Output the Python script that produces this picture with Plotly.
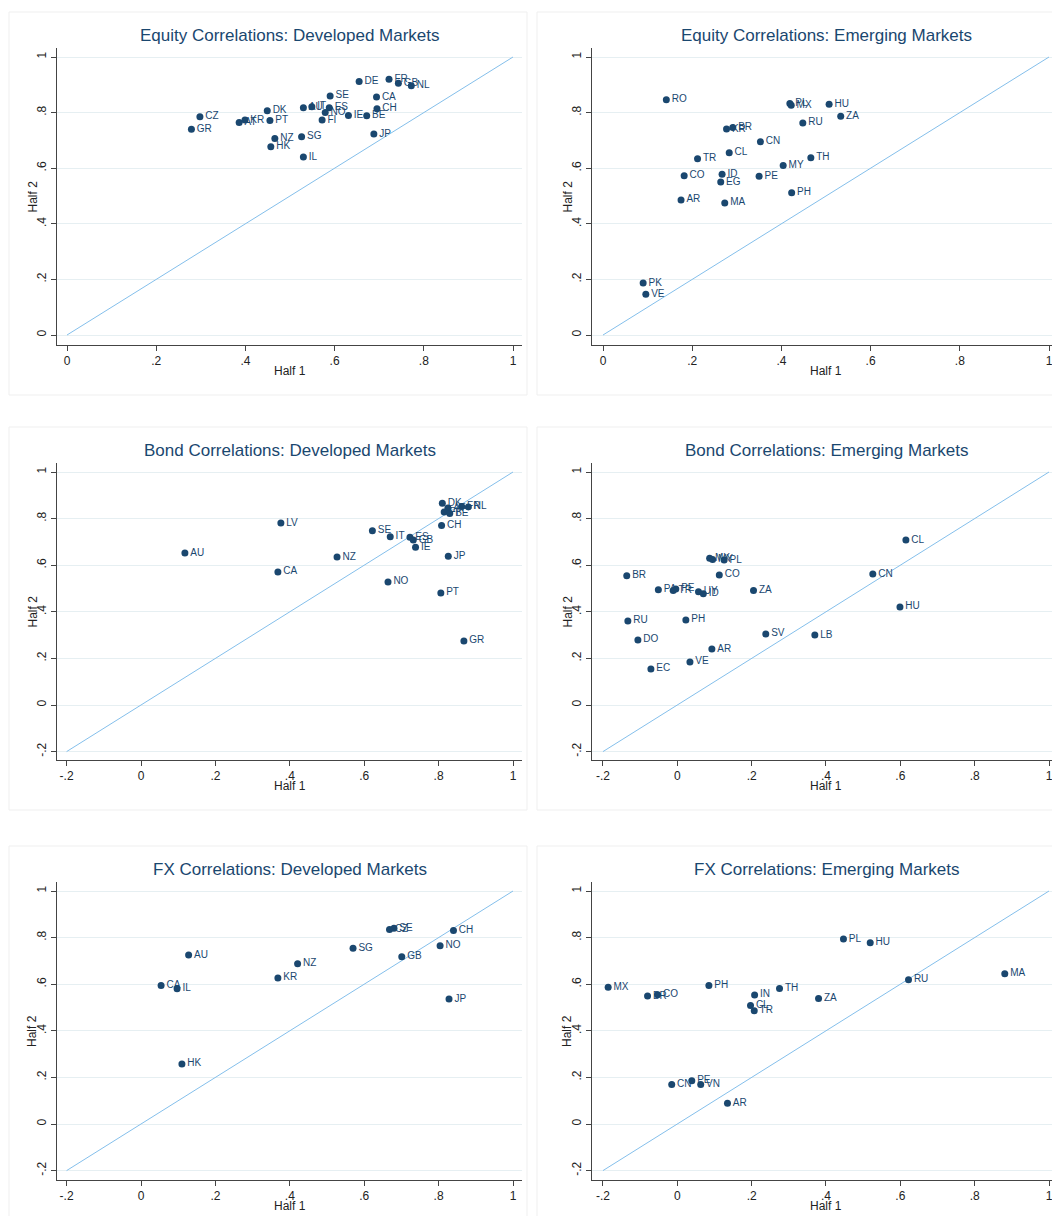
import plotly.graph_objects as go

# ---------------- data ----------------
eq_dev_codes = ["DE", "FR", "GB", "NL", "SE", "CA", "CH", "DK", "AU", "IT", "ES", "NO", "IE", "BE", "FI",
                "CZ", "GR", "KR", "AT", "PT", "NZ", "SG", "HK", "IL", "JP"]
eq_dev_h1 = [0.655, 0.722, 0.743, 0.772, 0.590, 0.694, 0.695, 0.449, 0.530, 0.549, 0.588, 0.579, 0.631, 0.672, 0.572,
             0.298, 0.279, 0.399, 0.386, 0.455, 0.466, 0.526, 0.457, 0.530, 0.688]
eq_dev_h2 = [0.912, 0.920, 0.906, 0.897, 0.860, 0.856, 0.814, 0.807, 0.817, 0.821, 0.817, 0.800, 0.790, 0.789, 0.773,
             0.785, 0.740, 0.773, 0.764, 0.772, 0.707, 0.713, 0.677, 0.640, 0.723]

eq_em_codes = ["RO", "PL", "MX", "HU", "ZA", "RU", "KR", "BR", "CN", "CL", "TR", "TH", "MY", "CO", "ID",
               "EG", "PE", "PH", "AR", "MA", "PK", "VE"]
eq_em_h1 = [0.142, 0.419, 0.422, 0.507, 0.533, 0.448, 0.277, 0.291, 0.353, 0.283, 0.212, 0.466, 0.404, 0.182, 0.267,
            0.264, 0.350, 0.423, 0.175, 0.273, 0.090, 0.096]
eq_em_h2 = [0.846, 0.833, 0.826, 0.830, 0.787, 0.763, 0.741, 0.746, 0.695, 0.656, 0.634, 0.638, 0.610, 0.573, 0.578,
            0.550, 0.571, 0.512, 0.486, 0.475, 0.187, 0.147]

bd_dev_codes = ["DK", "AT", "FI", "BE", "FR", "NL", "CH", "SE", "IT", "ES", "GB", "IE", "JP", "NZ", "LV",
                "AU", "CA", "NO", "PT", "GR"]
bd_dev_h1 = [0.810, 0.825, 0.815, 0.830, 0.862, 0.880, 0.808, 0.622, 0.670, 0.723, 0.732, 0.738, 0.826, 0.527, 0.376,
             0.118, 0.368, 0.664, 0.806, 0.868]
bd_dev_h2 = [0.866, 0.845, 0.828, 0.822, 0.852, 0.850, 0.770, 0.748, 0.722, 0.720, 0.708, 0.677, 0.638, 0.635, 0.781,
             0.652, 0.571, 0.528, 0.481, 0.275]

bd_em_codes = ["MX", "MY", "PL", "CO", "BR", "PA", "PE", "TR", "UY", "ID", "ZA", "CL", "CN", "HU", "RU",
               "PH", "DO", "AR", "SV", "LB", "VE", "EC"]
bd_em_h1 = [0.087, 0.095, 0.126, 0.113, -0.136, -0.051, -0.004, -0.011, 0.057, 0.070, 0.205, 0.615, 0.526, 0.599, -0.133,
            0.023, -0.106, 0.093, 0.238, 0.370, 0.034, -0.071]
bd_em_h2 = [0.630, 0.624, 0.622, 0.558, 0.555, 0.495, 0.498, 0.491, 0.486, 0.478, 0.491, 0.708, 0.562, 0.421, 0.361,
            0.365, 0.279, 0.240, 0.305, 0.300, 0.185, 0.155]

fx_dev_codes = ["CZ", "SE", "CH", "SG", "NO", "GB", "AU", "NZ", "KR", "CA", "IL", "JP", "HK"]
fx_dev_h1 = [0.668, 0.680, 0.840, 0.570, 0.804, 0.701, 0.128, 0.421, 0.368, 0.054, 0.097, 0.828, 0.110]
fx_dev_h2 = [0.835, 0.840, 0.830, 0.754, 0.765, 0.718, 0.725, 0.688, 0.627, 0.594, 0.581, 0.536, 0.258]

fx_em_codes = ["PL", "HU", "MA", "RU", "MX", "PH", "TH", "BR", "CO", "IN", "ZA", "CL", "TR", "CN", "PE", "VN", "AR"]
fx_em_h1 = [0.447, 0.519, 0.881, 0.622, -0.186, 0.085, 0.275, -0.080, -0.053, 0.208, 0.380, 0.197, 0.207,
            -0.015, 0.039, 0.063, 0.135]
fx_em_h2 = [0.794, 0.778, 0.645, 0.619, 0.587, 0.594, 0.582, 0.549, 0.555, 0.554, 0.539, 0.509, 0.486,
            0.170, 0.186, 0.170, 0.089]

titles = ["Equity Correlations: Developed Markets", "Equity Correlations: Emerging Markets",
          "Bond Correlations: Developed Markets", "Bond Correlations: Emerging Markets",
          "FX Correlations: Developed Markets", "FX Correlations: Emerging Markets"]

eq_ticks = [0, 0.2, 0.4, 0.6, 0.8, 1]
wide_ticks = [-0.2, 0, 0.2, 0.4, 0.6, 0.8, 1]
eq_diag = [0, 1]
wide_diag = [-0.2, 1]

# ---------------- layout helpers ----------------
W, H = 1052, 1216
NAVY = "#1a476f"
FONT = "Liberation Sans, Arial, Helvetica, sans-serif"


def fmt(v):
    s = f"{v:g}"
    if s.startswith("0."):
        s = s[1:]
    elif s.startswith("-0."):
        s = "-" + s[2:]
    return s


def px_x(p):
    return p / W


def px_y(p):
    return 1 - p / H


# panel geometry (pixels)
cols = [dict(left=57, right=522), dict(left=592, right=1052)]
rows = [dict(top=48, bottom=345), dict(top=463, bottom=760), dict(top=882, bottom=1180)]
# data -> pixel anchors
x_maps = {
    (0, 0): (67, 446), (0, 1): (603, 446),
    (1, 0): (141, 372), (1, 1): (677.3, 371.7),
    (2, 0): (141, 372), (2, 1): (677.3, 371.7),
}
y_maps = {0: (335, 278), 1: (705, 233), 2: (1124, 233)}

panels = [
    (eq_dev_codes, eq_dev_h1, eq_dev_h2, eq_ticks, eq_diag),
    (eq_em_codes, eq_em_h1, eq_em_h2, eq_ticks, eq_diag),
    (bd_dev_codes, bd_dev_h1, bd_dev_h2, wide_ticks, wide_diag),
    (bd_em_codes, bd_em_h1, bd_em_h2, wide_ticks, wide_diag),
    (fx_dev_codes, fx_dev_h1, fx_dev_h2, wide_ticks, wide_diag),
    (fx_em_codes, fx_em_h1, fx_em_h2, wide_ticks, wide_diag),
]

fig = go.Figure()
layout = dict(width=W, height=H, margin=dict(l=0, r=0, t=0, b=0),
              paper_bgcolor="white", plot_bgcolor="white", showlegend=False,
              font=dict(family=FONT, color="#222"))
annotations = []
shapes = []

for i, (codes, h1, h2, ticks, diag) in enumerate(panels):
    r, c = divmod(i, 2)
    n = i + 1
    xa = "x" if n == 1 else f"x{n}"
    ya = "y" if n == 1 else f"y{n}"
    col, row = cols[c], rows[r]
    x0, xs = x_maps[(r, c)]
    y0, ys = y_maps[r]
    xr = [(col["left"] - x0) / xs, (col["right"] - x0) / xs]
    yr = [(y0 - row["bottom"]) / ys, (y0 - row["top"]) / ys]

    fig.add_trace(go.Scatter(x=diag, y=diag, mode="lines", xaxis=xa, yaxis=ya,
                             line=dict(color="#84bfeb", width=1), hoverinfo="skip"))
    fig.add_trace(go.Scatter(x=h1, y=h2, text=codes, mode="markers+text", xaxis=xa, yaxis=ya,
                             textposition="middle right",
                             textfont=dict(family=FONT, size=10, color=NAVY),
                             marker=dict(color=NAVY, size=7)))

    axis_common = dict(showline=True, linecolor="#444", linewidth=1, ticks="outside", ticklen=5,
                       tickcolor="#444", zeroline=False, tickfont=dict(family=FONT, size=12, color="#222"),
                       tickvals=ticks, ticktext=[fmt(t) for t in ticks], ticklabeloverflow="allow")
    layout["xaxis" if n == 1 else f"xaxis{n}"] = dict(
        domain=[px_x(col["left"]), px_x(col["right"])], range=xr, anchor=ya,
        showgrid=False, **axis_common)
    layout["yaxis" if n == 1 else f"yaxis{n}"] = dict(
        domain=[px_y(row["bottom"]), px_y(row["top"])], range=yr, anchor=xa,
        showgrid=True, gridcolor="#e6eff2", gridwidth=1, tickangle=-90, **axis_common)

    cx = (col["left"] + (1060 if c == 1 else col["right"])) / 2
    annotations.append(dict(text=titles[i], x=px_x(cx), y=px_y(row["top"] - 13), xref="paper", yref="paper",
                            showarrow=False, xanchor="center", yanchor="middle",
                            font=dict(family=FONT, size=17, color=NAVY)))
    annotations.append(dict(text="Half 1", x=px_x(cx), y=px_y(row["bottom"] + 26), xref="paper", yref="paper",
                            showarrow=False, xanchor="center", yanchor="middle",
                            font=dict(family=FONT, size=12, color="#222")))
    annotations.append(dict(text="Half 2", x=px_x(col["left"] - 25), y=px_y((row["top"] + row["bottom"]) / 2),
                            xref="paper", yref="paper", showarrow=False, textangle=-90,
                            xanchor="center", yanchor="middle",
                            font=dict(family=FONT, size=12, color="#222")))
    # faint panel frame
    bx0 = 9 if c == 0 else 537
    bx1 = 527 if c == 0 else 1060
    by0 = row["top"] - 36
    by1 = row["bottom"] + 50
    shapes.append(dict(type="rect", xref="paper", yref="paper", x0=px_x(bx0), x1=px_x(bx1),
                       y0=px_y(by1), y1=px_y(by0), line=dict(color="#efefef", width=1), layer="below"))

layout["annotations"] = annotations
layout["shapes"] = shapes
fig.update_layout(**layout)
fig.write_html("out.html", config={"displayModeBar": False},
               post_script="document.body.style.margin='0';document.body.style.overflow='hidden';")
